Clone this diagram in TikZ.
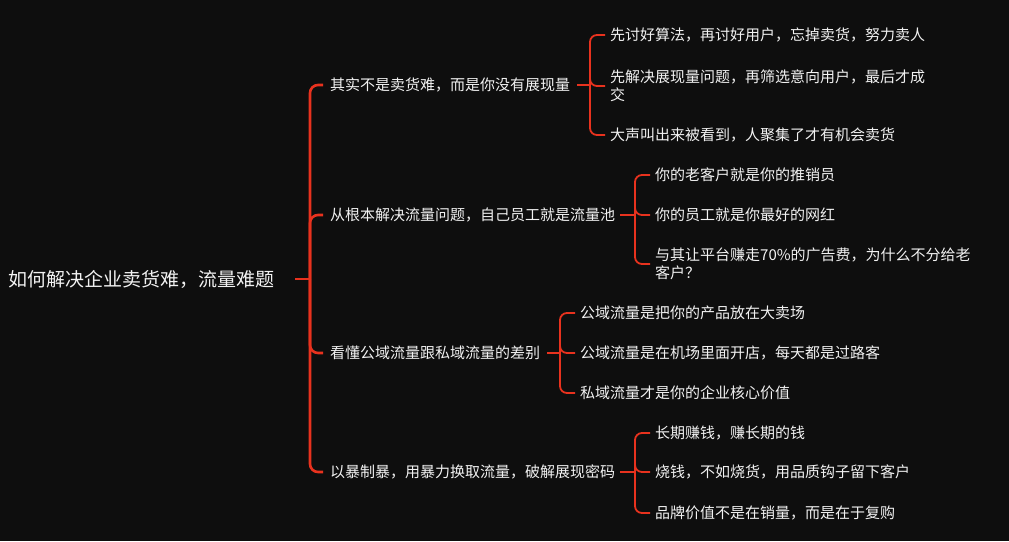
\documentclass[tikz,border=0pt]{standalone}
\usepackage{fontspec}
\setmainfont{Noto Sans CJK SC}
\definecolor{bg}{HTML}{0E0E0E}
\definecolor{ln}{HTML}{E8321E}
\definecolor{tx}{HTML}{F2F2F2}
\tikzset{
  rootbox/.style={anchor=west, inner sep=0pt, text=tx, font=\fontsize{19}{23}\selectfont},
  topic/.style={anchor=west, inner sep=0pt, text=tx, font=\fontsize{15}{18}\selectfont, align=left},
  trunk/.style={draw=ln, line width=2.6pt, rounded corners=8pt},
  twig/.style={draw=ln, line width=1.8pt, rounded corners=7pt},
}
\begin{document}
\begin{tikzpicture}[x=1pt,y=-1pt]
\useasboundingbox (0,0) rectangle (1009,541);
\fill[bg] (0,0) rectangle (1009,541);

\node[rootbox] (root) at (8,279) {如何解决企业卖货难，流量难题};

\node[topic] (b1) at (330,85) {其实不是卖货难，而是你没有展现量};
\node[topic] (b2) at (330,215) {从根本解决流量问题，自己员工就是流量池};
\node[topic] (b3) at (330,353) {看懂公域流量跟私域流量的差别};
\node[topic] (b4) at (330,472) {以暴制暴，用暴力换取流量，破解展现密码};

\node[topic] (c11) at (610,35) {先讨好算法，再讨好用户，忘掉卖货，努力卖人};
\node[topic] (c12) at (610,86) {先解决展现量问题，再筛选意向用户，最后才成\\交};
\node[topic] (c13) at (610,135) {大声叫出来被看到，人聚集了才有机会卖货};

\node[topic] (c21) at (655,175) {你的老客户就是你的推销员};
\node[topic] (c22) at (655,215) {你的员工就是你最好的网红};
\node[topic] (c23) at (655,264) {与其让平台赚走70\%的广告费，为什么不分给老\\客户？};

\node[topic] (c31) at (580,313) {公域流量是把你的产品放在大卖场};
\node[topic] (c32) at (580,353) {公域流量是在机场里面开店，每天都是过路客};
\node[topic] (c33) at (580,393) {私域流量才是你的企业核心价值};

\node[topic] (c41) at (655,433) {长期赚钱，赚长期的钱};
\node[topic] (c42) at (655,472) {烧钱，不如烧货，用品质钩子留下客户};
\node[topic] (c43) at (655,513) {品牌价值不是在销量，而是在于复购};

\coordinate (rj) at (310,279);
\coordinate (j1) at (590,85);
\coordinate (j2) at (635,215);
\coordinate (j3) at (560,353);
\coordinate (j4) at (635,472);

\draw[trunk] ([xshift=21pt]root.east) -- (rj);
\foreach \b in {b1,b2,b3,b4}
  \draw[trunk] (rj) |- ([xshift=-7pt]\b.west);

\draw[twig] ([xshift=7pt]b1.east) -- (j1);
\draw[twig] ([xshift=5pt]b2.east) -- (j2);
\draw[twig] ([xshift=7pt]b3.east) -- (j3);
\draw[twig] ([xshift=5pt]b4.east) -- (j4);

\foreach \c in {c11,c12,c13} \draw[twig] (j1) |- ([xshift=-5pt]\c.west);
\foreach \c in {c21,c22,c23} \draw[twig] (j2) |- ([xshift=-5pt]\c.west);
\foreach \c in {c31,c32,c33} \draw[twig] (j3) |- ([xshift=-5pt]\c.west);
\foreach \c in {c41,c42,c43} \draw[twig] (j4) |- ([xshift=-5pt]\c.west);
\end{tikzpicture}
\end{document}
